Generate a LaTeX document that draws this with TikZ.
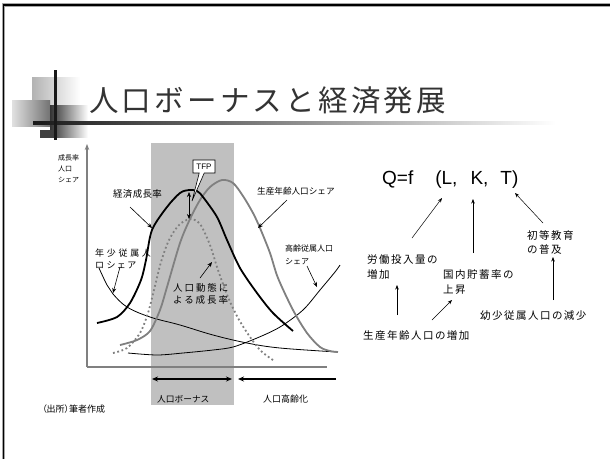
\documentclass[tikz,border=0pt]{standalone}
\usepackage{fontspec}
\usepackage{graphicx}
\usetikzlibrary{arrows.meta,shapes.callouts}
\newfontfamily\jpfont{Noto Sans CJK JP}
\newfontfamily\jppalt[RawFeature=+palt]{Noto Sans CJK JP}
\newfontfamily\jptitle[LetterSpace=11]{Noto Sans CJK JP}
\newfontfamily\jpright[LetterSpace=14]{Noto Sans CJK JP}
\newfontfamily\jpecon[LetterSpace=3]{Noto Sans CJK JP}
\newfontfamily\jpyoung[LetterSpace=30,RawFeature=+palt]{Noto Sans CJK JP}
\newfontfamily\jpdemo[LetterSpace=20]{Noto Sans CJK JP}
\newfontfamily\lsans{Liberation Sans}
\definecolor{band}{HTML}{C0C0C0}
\definecolor{curvegray}{HTML}{808080}
\definecolor{titlegray}{HTML}{333333}
\tikzset{
  chartlab/.style={inner sep=0pt, anchor=west, align=left},
  rightlab/.style={font=\jpright\fontsize{10.5}{14.5}\selectfont, inner sep=0pt, anchor=west, align=left},
  labarrow/.style={-{Stealth[length=5pt,width=4pt]}, line width=0.6pt},
  rarrow/.style={-{Stealth[length=4.5pt,width=3.5pt]}, line width=0.5pt},
  bigarrow/.style={line width=1.4pt, -{Stealth[length=6pt,width=5pt]}},
  thickcurve/.style={line width=1.8pt},
  thincurve/.style={line width=0.8pt},
}
\begin{document}
\begin{tikzpicture}[x=1pt,y=-1pt]
\useasboundingbox (0,0) rectangle (610,459);
\fill[white] (0,0) rectangle (610,459);
% slide frame
\draw[line width=3.4pt, black!35] (3.5,459) -- (3.5,5) -- (610,5);
\draw[line width=1.8pt, black] (3.5,459) -- (3.5,5) -- (610,5);
% logo decoration
\shade[left color=black!30, right color=white] (32,77) rectangle (80,105);
\shade[left color=black!12, right color=black!55] (12,100) rectangle (50,126);
\shade[left color=black!80, right color=white] (50,105) rectangle (88,137);
\fill[black!75] (40,130) rectangle (56,138);
\shade[left color=black!90, right color=white] (33,121.8) rectangle (556,124.4);
\fill[black!90] (54,70) rectangle (56.5,140);
% title
\node[font=\jptitle\fontsize{29.5}{36}\selectfont, text=titlegray, inner sep=0pt, anchor=west] (title) at (89,100) {人口ボーナスと経済発展};
% chart band
\fill[band] (151,143) rectangle (234,405);
% axes
\coordinate (origin) at (87,367);
\coordinate (ytop) at (87,144);
\coordinate (xend) at (327,367);
\draw[curvegray, line width=1.4pt, -{Stealth[length=6pt,width=4.5pt]}] (origin) -- (ytop);
\draw[curvegray, line width=1.4pt] (origin) -- (xend);
% young dependent share
\draw[thincurve] plot[smooth, tension=0.6] coordinates {(99,268) (107,285) (113,294) (127,307) (150,317) (180,325) (213,335) (247,343) (280,348) (337,352)};
% old dependent share
\draw[thincurve] plot[smooth] coordinates {(128,353) (157,355) (183,353) (213,350) (233,347) (257,338) (280,327) (303,310) (320,290) (335,272) (340,265)};
% demographic growth (dotted)
\draw[curvegray, line width=1.8pt, dash pattern=on 1.8pt off 2.6pt] plot[smooth] coordinates {(113,353) (127,348) (140,333) (148,313) (154,290) (161,262) (169,240) (179,225) (190,219) (200,224) (210,245) (218,270) (228,297) (238,318) (250,337) (261,351) (273,360)};
% working age share (gray)
\draw[curvegray, thickcurve] plot[smooth] coordinates {(120,345) (137,340) (150,331) (160,310) (167,287) (180,243) (190,219) (200,200) (210,187) (222,180) (233,183) (243,196) (253,213) (260,228) (270,253) (278,278) (293,310) (307,333) (320,347) (330,351) (338,352)};
% economic growth (black)
\draw[black, thickcurve] plot[smooth] coordinates {(97,323) (117,317) (130,303) (141,280) (146,260) (152,230) (167,207) (180,193) (189,190) (197,191) (203,197) (217,217) (227,240) (240,268) (257,293) (273,313) (293,331)};
% chart labels
\node[chartlab, font=\jpfont\fontsize{7}{11}\selectfont] (ylab) at (58,169) {成長率\\人口\\シェア};
\node[chartlab, font=\jpecon\fontsize{9.5}{12}\selectfont] (econlab) at (113,194) {経済成長率};
\node[chartlab, font=\jpfont\fontsize{8.6}{12}\selectfont] (worklab) at (257,191) {生産年齢人口シェア};
\node[chartlab, font=\jpyoung\fontsize{9}{12}\selectfont] (younglabA) at (95,253) {年少従属人};
\node[chartlab, font=\jpyoung\fontsize{9}{12}\selectfont] (younglabB) at (95,265) {ロシェア};
\node[chartlab, font=\jpfont\fontsize{8}{13}\selectfont] (oldlab) at (285,255) {高齢従属人口\\シェア};
\node[chartlab, font=\jpdemo\fontsize{9.5}{12}\selectfont] (demolabA) at (173,288) {人口動態に};
\node[chartlab, font=\jpdemo\fontsize{9.5}{12}\selectfont] (demolabB) at (173,300) {よる成長率};
\node[chartlab, font=\jpfont\fontsize{8.7}{12}\selectfont] (bonuslab) at (157,399) {人口ボーナス};
\node[chartlab, font=\jpfont\fontsize{9}{12}\selectfont] (aginglab) at (263,399) {人口高齢化};
\node[chartlab, font=\jppalt\fontsize{9}{12}\selectfont] (srclab) at (42,409) {（出所）筆者作成};
% chart label arrows
\coordinate (econtail) at (130,207); \coordinate (econtip) at (152,228);
\coordinate (worktail) at (287,200); \coordinate (worktip) at (258,228);
\coordinate (youngtail) at (120,267); \coordinate (youngtip) at (113,293);
\coordinate (oldtail) at (307,266); \coordinate (oldtip) at (317,287);
\coordinate (demotail) at (200,278); \coordinate (demotip) at (212,262);
\draw[labarrow] (econtail) -- (econtip);
\draw[labarrow] (worktail) -- (worktip);
\draw[labarrow] (youngtail) -- (youngtip);
\draw[labarrow] (oldtail) -- (oldtip);
\draw[labarrow] (demotail) -- (demotip);
% TFP gap arrow
\coordinate (tfptop) at (189,192); \coordinate (tfpbot) at (189,219);
\draw[line width=0.6pt, {Stealth[length=5pt,width=4pt]}-{Stealth[length=5pt,width=4pt]}] (tfptop) -- (tfpbot);
% TFP callout
\node[rectangle callout, draw, fill=white, line width=0.6pt, font=\lsans\fontsize{8}{9}\selectfont, inner sep=0pt, minimum width=22pt, minimum height=13pt, callout absolute pointer={(192,201)}, callout pointer width=5pt] (tfp) at (204,166.5) {TFP};
% arrows below axis
\coordinate (bonusL) at (152,379); \coordinate (bonusR) at (232,379);
\draw[line width=1.4pt, {Stealth[length=6pt,width=5pt]}-{Stealth[length=6pt,width=5pt]}] (bonusL) -- (bonusR);
\coordinate (agingR) at (336,379); \coordinate (agingL) at (238,379);
\draw[bigarrow] (agingR) -- (agingL);
% right side
\node[font=\lsans\fontsize{19}{21}\selectfont, inner sep=0pt, anchor=west] (Q) at (382,180) {Q=f\hspace{22pt}(L,\hspace{13pt}K,\hspace{12pt}T)};
\node[rightlab] (labor) at (367,267) {労働投入量の\\増加};
\node[rightlab] (saving) at (443,282) {国内貯蓄率の\\上昇};
\node[rightlab] (edu) at (527,242.5) {初等教育\\の普及};
\node[rightlab] (workpop) at (363,335) {生産年齢人口の増加};
\node[rightlab] (youngpop) at (480,316) {幼少従属人口の減少};
\coordinate (a1s) at (412,238); \coordinate (a1e) at (442,198);
\coordinate (a2s) at (473,253); \coordinate (a2e) at (473,199);
\coordinate (a3s) at (543,223); \coordinate (a3e) at (515,193);
\coordinate (a4s) at (553,300); \coordinate (a4e) at (553,257);
\coordinate (a5s) at (397,315); \coordinate (a5e) at (397,285);
\coordinate (a6s) at (432,320); \coordinate (a6e) at (452,300);
\draw[rarrow] (a1s) -- (a1e);
\draw[rarrow] (a2s) -- (a2e);
\draw[rarrow] (a3s) -- (a3e);
\draw[rarrow] (a4s) -- (a4e);
\draw[rarrow] (a5s) -- (a5e);
\draw[rarrow] (a6s) -- (a6e);
\end{tikzpicture}
\end{document}
